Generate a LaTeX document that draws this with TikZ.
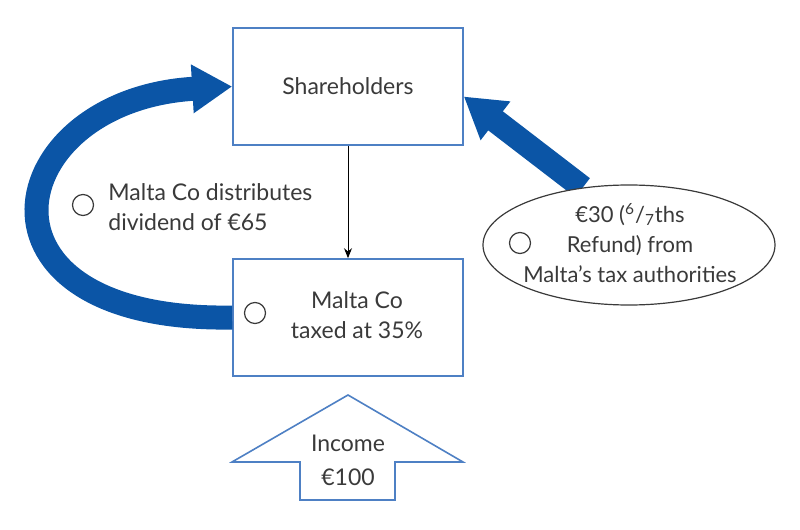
\documentclass[tikz,border=0pt]{standalone}
\usepackage{fontspec}
\setmainfont{Lato}
\usetikzlibrary{arrows.meta,shapes.geometric}
\definecolor{flowblue}{HTML}{0B55A6}
\definecolor{edgeblue}{HTML}{4E80C4}
\definecolor{txtgray}{HTML}{3A3A3A}
\tikzset{
  party/.style={draw=edgeblue,line width=0.8pt,minimum width=115pt,minimum height=58.5pt,text=txtgray},
  flow/.style={draw=flowblue,line width=12pt,-{Triangle[length=20pt,width=23pt]}},
  dot/.style={circle,draw=txtgray,line width=0.6pt,minimum size=10.5pt,inner sep=0pt},
  lbl/.style={text=txtgray,align=left,inner sep=0pt}
}
\begin{document}
\begin{tikzpicture}[x=0.5pt,y=-0.5pt,font=\fontsize{11.5}{15}\selectfont]
  \useasboundingbox (0,0) rectangle (800,530);
  % boxes
  \node[party] (share) at (348,86.5) {Shareholders};
  \node[party] (malta) at (348,317.5) {};
  \node[ellipse,minimum width=146pt,minimum height=60pt] (refund) at (629,245) {};
  % flows
  \draw[flow] (malta.west) .. controls (-45,322) and (0,100) .. (share.west);
  \draw[flow] (refund.129) -- ([yshift=-5pt]share.east);
  \fill[white] (refund.center) ellipse (146 and 60);
  \draw[txtgray,line width=0.6pt] (refund.center) ellipse (146 and 60);
  \draw[-{Stealth[length=5pt,width=4pt]},line width=0.5pt] (share.south) -- (malta.north);
  % income arrow
  \draw[edgeblue,line width=0.8pt,fill=white] (348,395) -- (463,462) -- (395,462) -- (395,500)
    -- (300,500) -- (300,462) -- (232,462) -- cycle;
  \node[lbl,align=center] (income) at (348,460) {Income\\[2pt]€100};
  % labels
  \node[dot] (d1) at (83,205) {};
  \node[lbl,anchor=west] (divtxt) at (108,207) {Malta Co distributes\\dividend of €65};
  \node[dot] (d2) at (255,313) {};
  \node[lbl,align=center] (maltatxt) at (357,315) {Malta Co\\taxed at 35\%};
  \node[dot] (d3) at (520,243) {};
  \node[lbl,align=center,font=\fontsize{11}{15}\selectfont] (refundtxt) at (630,243) {€30 (\textsuperscript{6}/\textsubscript{7}ths\\Refund) from\\Malta’s tax authorities};
\end{tikzpicture}
\end{document}
